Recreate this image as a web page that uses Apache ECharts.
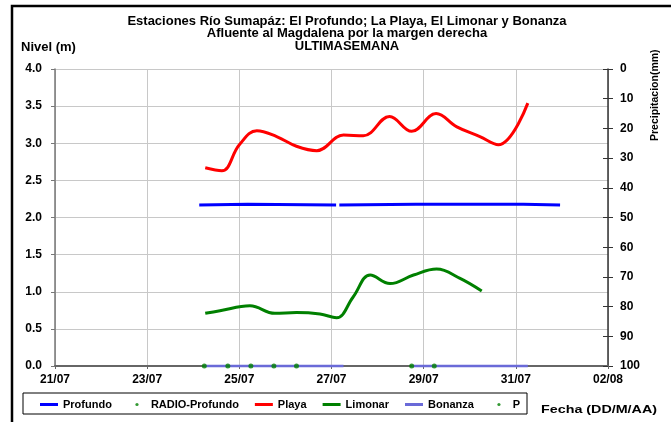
<!DOCTYPE html>
<html>
<head>
<meta charset="utf-8">
<script src="https://cdn.jsdelivr.net/npm/echarts@6/dist/echarts.min.js"></script>
<style>
  html, body { margin: 0; padding: 0; background: #fff; }
  #chart { width: 671px; height: 422px; }
</style>
</head>
<body>
<div id="chart"></div>
<script>
// x = dias contados desde el 21/07 a las 00:00
var xLabels = ['21/07', '23/07', '25/07', '27/07', '29/07', '31/07', '02/08'];

var profundo = [[3.13, 2.17], [4.18, 2.18], [6.10, 2.17], [6.13, null], [6.17, 2.17], [7.83, 2.18], [10.16, 2.18], [10.96, 2.17]];
var radioProfundo = [[3.24, 0], [3.75, 0], [4.25, 0], [4.75, 0], [5.24, 0], [7.74, 0], [8.23, 0]];
var playa = [[3.26, 2.67], [3.62, 2.63], [4.0, 2.98], [4.38, 3.17], [4.81, 3.09], [5.24, 2.96], [5.68, 2.90],
    [6.26, 3.11], [6.69, 3.10], [7.26, 3.36], [7.74, 3.16], [8.27, 3.40], [8.72, 3.22], [9.22, 3.09],
    [9.62, 2.98], [10.26, 3.54]];
var limonar = [[3.26, 0.71], [3.58, 0.745], [4.23, 0.81], [4.77, 0.71], [5.24, 0.72], [5.75, 0.70],
    [6.11, 0.65], [6.47, 0.93], [6.84, 1.225], [7.27, 1.11], [7.78, 1.225], [8.28, 1.306], [8.79, 1.18],
    [9.26, 1.01]];
var bonanza = [[3.24, 0], [6.26, 0], [6.5, null], [7.74, 0], [10.26, 0]];
var precip = [];

var fuente = 'Liberation Sans, Arial, sans-serif';
var lineIcon = 'path://M0,0H18V3H0Z';
var dotIcon = 'path://M0,0M7.5,3a1.6,1.6 0 1 0 3.2,0a1.6,1.6 0 1 0 -3.2,0M18,6';

var chart = echarts.init(document.getElementById('chart'));
var option = {
    backgroundColor: '#fff',
    animation: false,
    textStyle: {fontFamily: fuente},
    title: {
        text: 'Estaciones Río Sumapáz: El Profundo; La Playa, El Limonar y Bonanza\nAfluente al Magdalena por la margen derecha\nULTIMASEMANA',
        left: 342,
        top: 10,
        textAlign: 'center',
        textStyle: {
            fontSize: 13,
            fontWeight: 'bold',
            color: '#000',
            lineHeight: 12.5,
            fontFamily: fuente
        }
    },
    legend: {
        left: 40,
        top: 399,
        itemWidth: 18,
        itemHeight: 10,
        itemGap: 16,
        padding: 0,
        textStyle: {fontSize: 11, fontWeight: 'bold', color: '#000', fontFamily: fuente},
        data: [
            {name: 'Profundo', icon: lineIcon},
            {name: 'RADIO-Profundo', icon: dotIcon},
            {name: 'Playa', icon: lineIcon},
            {name: 'Limonar', icon: lineIcon},
            {name: 'Bonanza', icon: lineIcon},
            {name: 'P', icon: dotIcon}
        ]
    },
    grid: {
        left: 55,
        right: 63,
        top: 69,
        bottom: 56
    },
    xAxis: {
        type: 'value',
        min: 0,
        max: 12,
        interval: 2,
        axisLine: {lineStyle: {color: '#666', width: 2}},
        axisTick: {show: true, length: 3, lineStyle: {color: '#666'}},
        axisLabel: {
            margin: 8,
            fontSize: 12,
            fontWeight: 'bold',
            color: '#000',
            formatter: function (v) {
                return xLabels[Math.round(v / 2)];
            }
        },
        splitLine: {show: true, lineStyle: {color: '#c8c8c8', width: 1}}
    },
    yAxis: [
        {
            type: 'value',
            min: 0,
            max: 4,
            interval: 0.5,
            name: 'Nivel (m)',
            nameLocation: 'end',
            nameGap: 15,
            nameTextStyle: {fontSize: 13, fontWeight: 'bold', color: '#000', padding: [0, 13, 0, 0]},
            axisLine: {show: true, lineStyle: {color: '#777', width: 1.5}},
            axisTick: {show: true, length: 4, lineStyle: {color: '#777'}},
            axisLabel: {
                margin: 13,
                fontSize: 12,
                fontWeight: 'bold',
                color: '#000',
                formatter: function (v) { return v.toFixed(1); }
            },
            splitLine: {show: true, lineStyle: {color: '#c8c8c8', width: 1}}
        },
        {
            type: 'value',
            position: 'right',
            min: 0,
            max: 100,
            interval: 10,
            inverse: true,
            axisLine: {show: true, lineStyle: {color: '#333', width: 1.5}},
            axisTick: {show: true, length: 5, lineStyle: {color: '#333'}},
            axisLabel: {margin: 12, fontSize: 12, fontWeight: 'bold', color: '#000'},
            splitLine: {show: false}
        },
        {
            // solo para que las marcas crucen el eje derecho
            type: 'value',
            position: 'right',
            min: 0,
            max: 100,
            interval: 10,
            inverse: true,
            axisLine: {show: false},
            axisTick: {show: true, inside: true, length: 5, lineStyle: {color: '#333'}},
            axisLabel: {show: false},
            splitLine: {show: false}
        }
    ],
    graphic: [
        {
            type: 'rect',
            shape: {x: 12, y: 6, width: 700, height: 440},
            style: {fill: 'none', stroke: '#000', lineWidth: 2.5},
            silent: true
        },
        {
            type: 'rect',
            shape: {x: 23, y: 393, width: 504, height: 21},
            style: {fill: 'none', stroke: '#000', lineWidth: 1},
            silent: true
        },
        {
            type: 'text',
            x: 541,
            y: 410,
            scaleX: 1.3,
            style: {text: 'Fecha (DD/M/AA)', font: 'bold 11px ' + fuente, fill: '#000', verticalAlign: 'middle'}
        },
        {
            type: 'text',
            x: 650,
            y: 141,
            rotation: Math.PI / 2,
            style: {text: 'Precipitacion(mm)', font: 'bold 10.5px ' + fuente, fill: '#000'}
        }
    ],
    series: [
        {
            name: 'Profundo',
            type: 'line',
            data: profundo,
            symbol: 'none',
            connectNulls: false,
            lineStyle: {color: '#0000ff', width: 3},
            itemStyle: {color: '#0000ff'},
            z: 3
        },
        {
            name: 'RADIO-Profundo',
            type: 'scatter',
            data: radioProfundo,
            symbol: 'circle',
            symbolSize: 5,
            itemStyle: {color: '#008000'},
            clip: false,
            z: 6
        },
        {
            name: 'Playa',
            type: 'line',
            data: playa,
            symbol: 'none',
            smooth: 0.4,
            lineStyle: {color: '#ff0000', width: 3},
            itemStyle: {color: '#ff0000'},
            z: 3
        },
        {
            name: 'Limonar',
            type: 'line',
            data: limonar,
            symbol: 'none',
            smooth: 0.4,
            lineStyle: {color: '#008000', width: 3},
            itemStyle: {color: '#008000'},
            z: 3
        },
        {
            name: 'Bonanza',
            type: 'line',
            data: bonanza,
            symbol: 'none',
            connectNulls: false,
            clip: false,
            lineStyle: {color: '#6a6ad8', width: 2.5},
            itemStyle: {color: '#6a6ad8'},
            z: 5
        },
        {
            name: 'P',
            type: 'scatter',
            yAxisIndex: 1,
            data: precip,
            symbolSize: 5,
            itemStyle: {color: '#008000'}
        }
    ]
};
chart.setOption(option);
</script>
</body>
</html>
